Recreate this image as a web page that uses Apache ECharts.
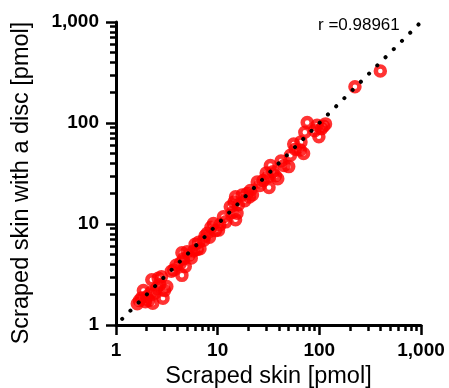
<!DOCTYPE html>
<html>
<head>
<meta charset="utf-8">
<script src="https://cdn.jsdelivr.net/npm/echarts@6/dist/echarts.min.js"></script>
<style>
  html, body { margin: 0; padding: 0; background: #fff; }
  #chart { width: 449px; height: 388px; }
</style>
</head>
<body>
<div id="chart"></div>
<script>
// scraped skin (x) vs scraped skin with a disc (y), pmol
const skinX = [
  1.62, 1.7, 1.78, 1.86, 2.0, 2.1, 2.25, 2.3, 2.4, 2.5, 2.6, 2.8, 2.9, 3.0, 3.16, 2.2, 1.95, 2.7,
  3.5, 3.7, 3.9, 4.3, 4.45, 4.45, 4.8, 4.6, 5.2, 5.0, 5.5, 5.8, 6.0, 6.3, 6.7, 6.5,
  7.3, 7.5, 7.9, 8.3, 8.6, 9.1, 9.5, 10.2, 10.5, 11.4, 12, 13.3, 14, 15, 15.5, 14.5, 15, 16,
  17.4, 18.5, 19.5, 20.5, 21, 22, 24.5, 26, 28, 30, 31, 32, 33, 35, 37, 39,
  42, 45, 50, 52, 56, 58, 65, 70, 66, 72, 76, 99, 110, 105, 115, 90, 95,
  224, 398
];
const discY = [
  1.62, 1.75, 1.85, 2.2, 1.9, 1.75, 2.8, 1.64, 2.06, 2.3, 2.9, 3.0, 1.84, 2.2, 2.4, 2.1, 1.7, 2.5,
  3.4, 3.5, 3.9, 4.1, 5.2, 3.1, 3.8, 4.5, 4.9, 5.3, 4.6, 5.4, 6.3, 5.6, 5.7, 6.6,
  6.9, 7.6, 8.1, 7.4, 9.3, 10.1, 8.6, 8.7, 9.8, 11.8, 10.5, 14.8, 13, 11, 12.8, 16.5, 18.6, 15.5,
  19.4, 17, 20, 18.5, 21.5, 19.5, 26, 24, 27, 32, 29, 23, 38, 33, 30, 28,
  42, 38, 37, 48, 62, 55, 54, 50, 65, 81, 101, 73, 93, 88, 98, 84, 95,
  229, 327
];
// identity reference line (dotted)
const lineX = [1.15, 1150];
const lineY = [1.15, 1150];
const rLabel = 'r =0.98961';

const chart = echarts.init(document.getElementById('chart'));
const font = 'Arial, "Liberation Sans", sans-serif';

function logAxis(name, nameGap, labelMargin, namePadding) {
  return {
    type: 'log',
    logBase: 10,
    min: 1,
    max: 1000,
    name: name,
    nameLocation: 'middle',
    nameGap: nameGap,
    nameTextStyle: { fontFamily: font, fontSize: 23.5, color: '#000', padding: namePadding },
    axisLine: { show: true, lineStyle: { color: '#000', width: 3 } },
    axisTick: { show: true, inside: false, length: 10, lineStyle: { color: '#000', width: 2.5 } },
    minorTick: { show: true, splitNumber: 9, length: 6, lineStyle: { color: '#000', width: 2.5 } },
    splitLine: { show: false },
    minorSplitLine: { show: false },
    axisLabel: {
      margin: labelMargin,
      fontFamily: font, fontSize: 19, fontWeight: 'bold', color: '#000',
      formatter: v => Number(v).toLocaleString('en-US')
    }
  };
}

const option = {
  animation: false,
  grid: { left: 116, right: 28, top: 22, bottom: 63, outerBoundsMode: 'none' },
  xAxis: logAxis('Scraped skin [pmol]', 39, 16, 0),
  yAxis: logAxis('Scraped skin with a disc [pmol]', 82, 17, [0, 19, 0, 0]),
  graphic: [{
    type: 'text', left: 318, top: 17,
    style: { text: rLabel, fontFamily: font, fontSize: 17, fill: '#000' }
  }],
  series: [
    {
      type: 'scatter',
      data: skinX.map((x, i) => [x, discY[i]]),
      symbol: 'circle',
      symbolSize: 9,
      itemStyle: { color: 'rgba(0,0,0,0)', borderColor: '#ff0000', borderWidth: 4.5 },
      z: 2
    },
    {
      type: 'line',
      data: lineX.map((x, i) => [x, lineY[i]]),
      symbol: 'none',
      clip: false,
      lineStyle: { color: '#000', width: 4, type: [0.1, 11.5], cap: 'round' },
      z: 3
    }
  ]
};

chart.setOption(option);
</script>
</body>
</html>
